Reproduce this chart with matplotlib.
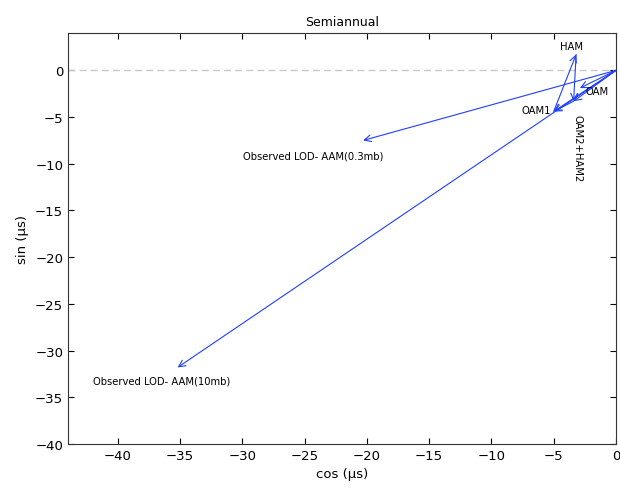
import matplotlib
matplotlib.use("Agg")
import matplotlib.pyplot as plt

# phasor arrows (cos, sin) in microseconds
x0 = [0, 0, 0, 0, -5.0, -3.2, 0, -3.4]
y0 = [0, 0, 0, 0, -4.4, 1.7, 0, -3.3]
x1 = [-35.2, -20.3, -2.9, -5.0, -3.2, -3.4, -3.4, -5.0]
y1 = [-31.8, -7.5, -1.9, -4.4, 1.7, -3.3, -3.3, -4.4]

labels = ["Observed LOD- AAM(10mb)", "Observed LOD- AAM(0.3mb)", "OAM", "OAM1", "HAM", "OAM2+HAM2"]
lab_x = [-36.5, -24.3, -1.5, -6.4, -3.6, -3.1]
lab_y = [-33.2, -9.1, -2.25, -4.2, 2.6, -8.3]
lab_rot = [0, 0, 0, 0, 0, -90]

fig = plt.figure(figsize=(6.2, 5.02), dpi=100)
ax = fig.add_axes([0.1097, 0.1135, 0.8838, 0.8188])

ax.axhline(0, color="#c8c8c8", ls=(0, (5, 3)), lw=1)

for a, b, c, d in zip(x0, y0, x1, y1):
    ax.annotate("", xy=(c, d), xytext=(a, b),
                arrowprops=dict(arrowstyle="->", color="#1f3fff", lw=0.8,
                                shrinkA=0, shrinkB=0, mutation_scale=12))

for t, x, y, r in zip(labels, lab_x, lab_y, lab_rot):
    ax.text(x, y, t, fontsize=7.2, ha="center", va="center", rotation=r)

ax.set_xlim(-44, 0)
ax.set_ylim(-40, 4)
ax.set_xticks(range(-40, 1, 5))
ax.set_yticks(range(-40, 1, 5))
ax.tick_params(direction="in", top=True, right=True, length=4, labelsize=9.5)
for s in ax.spines.values():
    s.set_color("#333333")

ax.set_title("Semiannual", fontsize=9)
ax.set_xlabel("cos (\u00b5s)", fontsize=9.5)
ax.set_ylabel("sin (\u00b5s)", fontsize=9.5)

fig.savefig("out.png")
